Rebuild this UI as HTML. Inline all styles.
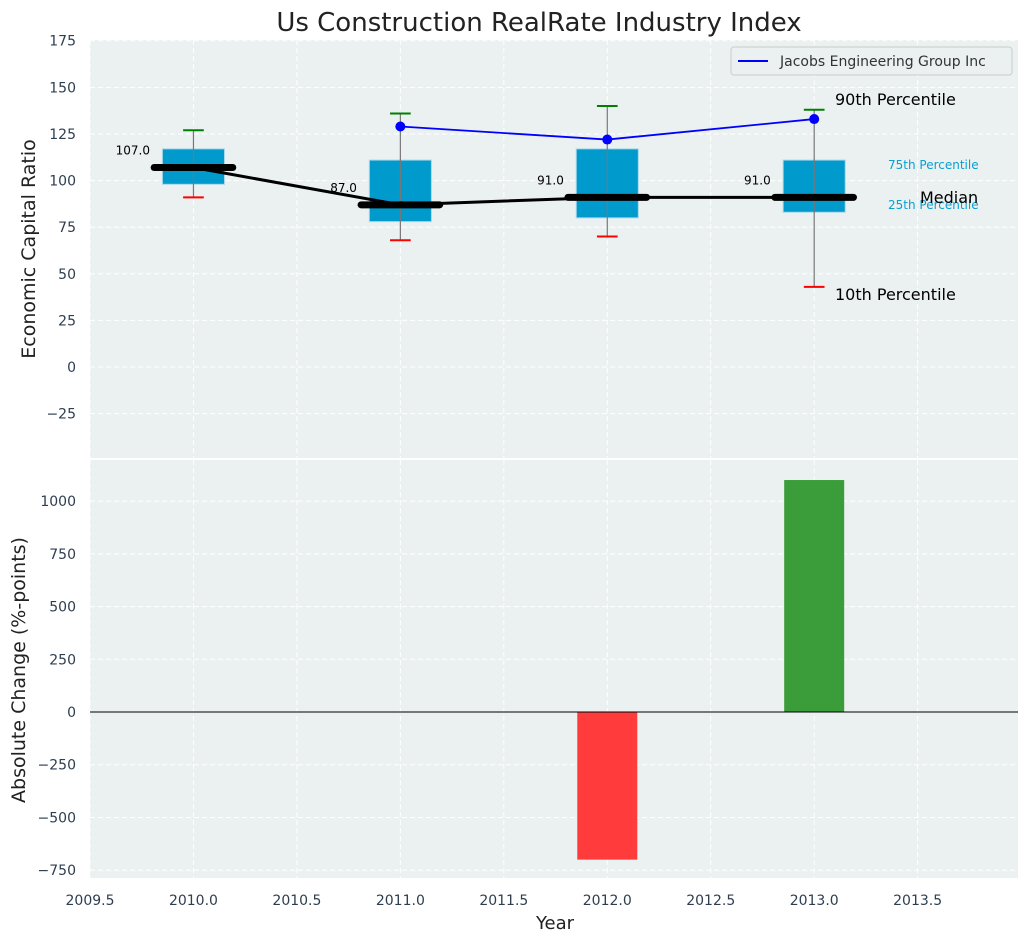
<!DOCTYPE html>
<html><head><meta charset="utf-8"><style>
body{margin:0;background:#fff;font-family:"Liberation Sans","DejaVu Sans",sans-serif}
svg text{font-family:"DejaVu Sans","Liberation Sans",sans-serif}
</style></head><body>
<svg id="c" width="1029" height="942" xmlns="http://www.w3.org/2000/svg"></svg>
<script>
const years=[2010,2011,2012,2013];
const q1=[98,78,80,83];
const q3=[117,111,117,111];
const lo=[91,68,70,43];
const hi=[127,136,140,138];
const med=[107,87,91,91];
const medLabels=["107.0","87.0","91.0","91.0"];
const jacYears=[2011,2012,2013];
const jacVals=[129,122,133];
const chgYears=[2012,2013];
const chgVals=[-700,1100];
const topTicks=[-25,0,25,50,75,100,125,150,175];
const botTicks=[-750,-500,-250,0,250,500,750,1000];
const xTicks=[2009.5,2010,2010.5,2011,2011.5,2012,2012.5,2013,2013.5];

const svg=document.getElementById('c');
const NS='http://www.w3.org/2000/svg';
function el(t,a,p){const e=document.createElementNS(NS,t);for(const k in a)e.setAttribute(k,a[k]);(p||svg).appendChild(e);return e;}
const L=90,R=1018;
const X=v=>L+(v-2009.5)/(2013.985-2009.5)*(R-L);
const T0=40,T1=458,B0=460,B1=878;
const YT=v=>T1-(v-(-48.8))/(175.4-(-48.8))*(T1-T0);
const YB=v=>B1-(v-(-787))/(1195-(-787))*(B1-B0);
const fmt=v=>v<0?'\u2212'+Math.abs(v):String(v);

let e=el('rect',{x:L,y:T0,width:R-L,height:T1-T0,fill:'#ebf0f1'});

e=el('rect',{x:L,y:B0,width:R-L,height:B1-B0,fill:'#ebf0f1'});


const tickStyle={fill:'#2e3e50','font-size':14};
topTicks.forEach(t=>{const y=YT(t);
 el('line',{x1:L,x2:R,y1:y,y2:y,stroke:'#fff','stroke-dasharray':'5,3','stroke-width':1});
 const tx=el('text',Object.assign({x:L-14,y:y+5,'text-anchor':'end'},tickStyle));tx.textContent=fmt(t);
 });
botTicks.forEach(t=>{const y=YB(t);
 el('line',{x1:L,x2:R,y1:y,y2:y,stroke:'#fff','stroke-dasharray':'5,3','stroke-width':1});
 const tx=el('text',Object.assign({x:L-14,y:y+5,'text-anchor':'end'},tickStyle));tx.textContent=fmt(t);
 });
xTicks.forEach(t=>{const x=X(t);
 el('line',{x1:x,x2:x,y1:T0,y2:T1,stroke:'#fff','stroke-dasharray':'5,3'});
 el('line',{x1:x,x2:x,y1:B0,y2:B1,stroke:'#fff','stroke-dasharray':'5,3'});
 const tx=el('text',Object.assign({x:x,y:B1+27,'text-anchor':'middle'},tickStyle));tx.textContent=t.toFixed(1);
 });

years.forEach((yr,i)=>{const x=X(yr),hw=X(yr+0.15)-x,cw=X(yr+0.05)-x;
 const b=el('rect',{x:x-hw,y:YT(q3[i]),width:2*hw,height:YT(q1[i])-YT(q3[i]),fill:'#009acd',stroke:'#a8d8ea','stroke-width':1});
 
 el('line',{x1:x,x2:x,y1:YT(lo[i]),y2:YT(hi[i]),stroke:'#777','stroke-width':1.2});
 el('line',{x1:x-cw,x2:x+cw,y1:YT(hi[i]),y2:YT(hi[i]),stroke:'green','stroke-width':2});
 el('line',{x1:x-cw,x2:x+cw,y1:YT(lo[i]),y2:YT(lo[i]),stroke:'red','stroke-width':2});
});
const mp=el('polyline',{points:years.map((y,i)=>X(y)+','+YT(med[i])).join(' '),fill:'none',stroke:'#000','stroke-width':3});

years.forEach((yr,i)=>{const x=X(yr),hw=X(yr+0.19)-x;
 const m=el('line',{x1:x-hw,x2:x+hw,y1:YT(med[i]),y2:YT(med[i]),stroke:'#000','stroke-width':7,'stroke-linecap':'round'});
 
 const t=el('text',{x:X(yr-0.21),y:YT(med[i])-13,'text-anchor':'end','font-size':12,fill:'#000'});t.textContent=medLabels[i];
 });
const jl=el('polyline',{points:jacYears.map((y,i)=>X(y)+','+YT(jacVals[i])).join(' '),fill:'none',stroke:'blue','stroke-width':1.8});

jacYears.forEach((y,i)=>{const c=el('circle',{cx:X(y),cy:YT(jacVals[i]),r:5,fill:'blue'});
 });

function txt(s,x,y,a,name){const t=el('text',Object.assign({x:x,y:y},a));t.textContent=s;return t;}
txt('90th Percentile',835,105,{'font-size':16,fill:'#000'},'p90-label');
txt('10th Percentile',835,300,{'font-size':16,fill:'#000'},'p10-label');
txt('75th Percentile',888,169,{'font-size':12,fill:'#0aa0d0'},'p75-label');
txt('25th Percentile',888,209,{'font-size':12,fill:'#0aa0d0'},'p25-label');
txt('Median',920,203,{'font-size':16,fill:'#000'},'median-annot');

const lg=el('rect',{x:731,y:47,width:281,height:28,rx:3,fill:'#ebf0f1',stroke:'#ccc'});

el('line',{x1:738,x2:768,y1:61,y2:61,stroke:'blue','stroke-width':2});
txt('Jacobs Engineering Group Inc',780,66,{'font-size':14,fill:'#333'},'legend-entry');

chgYears.forEach((yr,i)=>{const x=X(yr),hw=X(yr+0.145)-x,v=chgVals[i];
 const r=el('rect',{x:x-hw,y:Math.min(YB(0),YB(v)),width:2*hw,height:Math.abs(YB(v)-YB(0)),fill:v<0?'#ff3b3b':'#3a9d3a'});
 });
el('line',{x1:L,x2:R,y1:YB(0),y2:YB(0),stroke:'#000','stroke-width':1});

txt('Us Construction RealRate Industry Index',539,31,{'font-size':26,fill:'#222','text-anchor':'middle'},'chart-title');
txt('Year',555,929,{'font-size':18,fill:'#222','text-anchor':'middle'},'x-axis-title');
txt('Economic Capital Ratio',35,249,{'font-size':19,fill:'#222','text-anchor':'middle',transform:'rotate(-90 35 249)'},'y-axis-title-top');
txt('Absolute Change (%-points)',25,670,{'font-size':19,fill:'#222','text-anchor':'middle',transform:'rotate(-90 25 670)'},'y-axis-title-bottom');
</script>
</body></html>
